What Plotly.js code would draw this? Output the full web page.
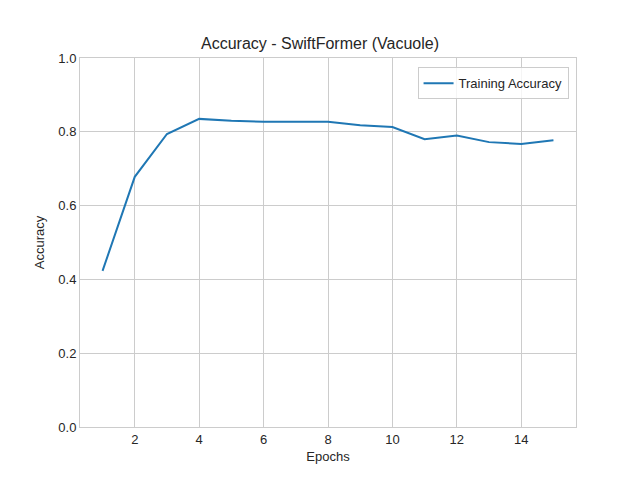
<!DOCTYPE html>
<html>
<head>
<meta charset="utf-8">
<script src="https://cdn.plot.ly/plotly-3.0.1.min.js"></script>
<style>body{margin:0}#chart{width:640px;height:480px}</style>
</head>
<body>
<div id="chart"></div>
<script>
// training accuracy per epoch
const epochs = [1, 2, 3, 4, 5, 6, 7, 8, 9, 10, 11, 12, 13, 14, 15];
const trainAcc = [0.423, 0.678, 0.794, 0.835, 0.830, 0.827, 0.827, 0.827, 0.818, 0.813, 0.780, 0.790, 0.772, 0.767, 0.777];
const xTicks = [2, 4, 6, 8, 10, 12, 14];
const yTicks = [0, 0.2, 0.4, 0.6, 0.8, 1.0];

const trace = {
    x: epochs,
    y: trainAcc,
    type: 'scatter',
    mode: 'lines',
    name: 'Training Accuracy',
    line: { color: '#1f77b4', width: 2 },
};

const layout = {
    width: 640,
    height: 480,
    paper_bgcolor: '#fff',
    plot_bgcolor: '#fff',
    font: { family: 'Liberation Sans, Arial', color: '#262626', size: 13 },
    margin: { l: 80, r: 64, t: 58, b: 53 },
    title: { text: 'Accuracy - SwiftFormer (Vacuole)', font: { size: 16, color: '#262626' }, x: 0.5, y: 0.91, yanchor: 'middle' },
    xaxis: {
        title: { text: 'Epochs', font: { size: 13 }, standoff: 6 },
        range: [0.3, 15.7],
        tickvals: xTicks,
        ticktext: xTicks.map(String),
        gridcolor: '#cccccc',
        zeroline: false,
        showline: true,
        mirror: true,
        linecolor: '#cccccc',
        ticks: '',
    },
    yaxis: {
        title: { text: 'Accuracy', font: { size: 13 }, standoff: 10 },
        range: [0, 1],
        tickvals: yTicks,
        ticktext: yTicks.map(v => v.toFixed(1)),
        gridcolor: '#cccccc',
        zeroline: false,
        showline: true,
        mirror: true,
        linecolor: '#cccccc',
        ticks: '',
    },
    showlegend: true,
    legend: {
        x: 0.985, y: 0.975, xanchor: 'right', yanchor: 'top',
        bordercolor: '#cccccc', borderwidth: 1, bgcolor: 'rgba(255,255,255,0.8)',
        font: { size: 13 },
    },
};

Plotly.newPlot('chart', [trace], layout, { displayModeBar: false });
</script>
</body>
</html>
